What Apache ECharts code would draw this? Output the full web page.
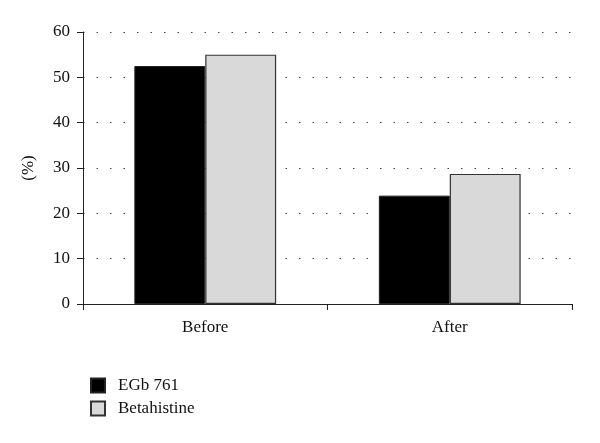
<!DOCTYPE html>
<html lang="en">
<head>
    <meta charset="UTF-8">
    <title>EGb 761 vs Betahistine</title>
    <script src="https://cdn.jsdelivr.net/npm/echarts@6.0.0/dist/echarts.min.js"></script>
    <style>
        html, body { margin: 0; padding: 0; background: #fff; }
        #chart { width: 600px; height: 443px; }
    </style>
</head>
<body>
<div id="chart"></div>
<script>
    var categories = ['Before', 'After'];
    var egbValues = [52.5, 23.9];
    var betaValues = [55.0, 28.7];
    var seriesNames = ['EGb 761', 'Betahistine'];

    var serif = '"Liberation Serif", "DejaVu Serif", serif';
    var chart = echarts.init(document.getElementById('chart'));

    var option = {
        animation: false,
        textStyle: {fontFamily: serif},
        grid: {left: 83, right: 28, top: 32, bottom: 139},
        legend: {
            orient: 'vertical',
            left: 85,
            top: 372,
            itemWidth: 14,
            itemHeight: 14,
            itemGap: 6,
            icon: 'rect',
            textStyle: {fontFamily: serif, fontSize: 17, color: '#111', padding: [0, 0, 0, 8]},
            data: seriesNames
        },
        xAxis: {
            type: 'category',
            data: categories,
            axisLine: {lineStyle: {color: '#222', width: 1}},
            axisTick: {show: true, length: 6, lineStyle: {color: '#222'}},
            axisLabel: {fontFamily: serif, fontSize: 17, color: '#111', margin: 15}
        },
        yAxis: {
            type: 'value',
            min: 0,
            max: 60,
            interval: 10,
            name: '(%)',
            nameLocation: 'middle',
            nameGap: 46,
            nameRotate: 90,
            nameTextStyle: {fontFamily: serif, fontSize: 17, color: '#111'},
            axisLine: {show: true, lineStyle: {color: '#222', width: 1}},
            axisTick: {show: true, length: 6, lineStyle: {color: '#222'}},
            axisLabel: {fontFamily: serif, fontSize: 17, color: '#111', margin: 13},
            splitLine: {
                show: true,
                lineStyle: {color: '#444', width: 1.2, type: [1.5, 12]}
            }
        },
        series: [
            {
                name: seriesNames[0],
                type: 'bar',
                data: egbValues,
                barGap: '0%',
                barCategoryGap: '42%',
                itemStyle: {color: '#000', borderColor: '#222', borderWidth: 1}
            },
            {
                name: seriesNames[1],
                type: 'bar',
                data: betaValues,
                itemStyle: {color: '#d9d9d9', borderColor: '#333', borderWidth: 1.2}
            }
        ]
    };

    chart.setOption(option);
</script>
</body>
</html>
